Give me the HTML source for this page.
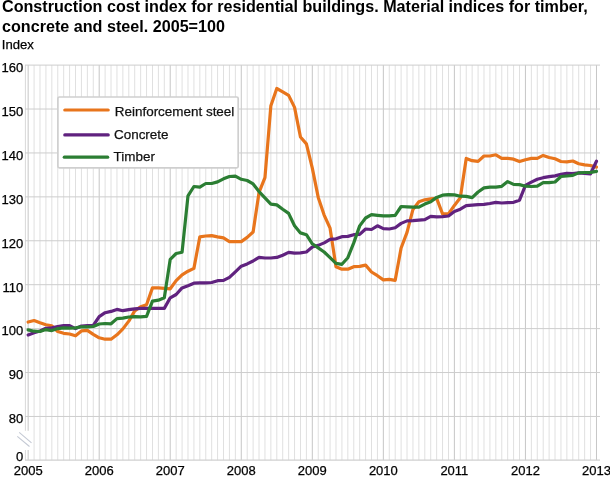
<!DOCTYPE html>
<html><head><meta charset="utf-8">
<style>
html,body{margin:0;padding:0;background:#fff;}
body{width:610px;height:488px;overflow:hidden;position:relative;font-family:"Liberation Sans",sans-serif;}
svg{position:absolute;left:0;top:0;will-change:transform;}
</style></head><body>
<svg width="610" height="488" viewBox="0 0 610 488">
<g><line x1="28.15" y1="65.10" x2="28.15" y2="430.8" stroke="#c6c6c6" stroke-width="1"/><line x1="28.15" y1="450" x2="28.15" y2="460.20" stroke="#c6c6c6" stroke-width="1"/><line x1="34.07" y1="65.10" x2="34.07" y2="460.20" stroke="#e0e0e0" stroke-width="1"/><line x1="39.99" y1="65.10" x2="39.99" y2="460.20" stroke="#e0e0e0" stroke-width="1"/><line x1="45.91" y1="65.10" x2="45.91" y2="460.20" stroke="#e0e0e0" stroke-width="1"/><line x1="51.83" y1="65.10" x2="51.83" y2="460.20" stroke="#e0e0e0" stroke-width="1"/><line x1="57.75" y1="65.10" x2="57.75" y2="460.20" stroke="#e0e0e0" stroke-width="1"/><line x1="63.67" y1="65.10" x2="63.67" y2="460.20" stroke="#e0e0e0" stroke-width="1"/><line x1="69.59" y1="65.10" x2="69.59" y2="460.20" stroke="#e0e0e0" stroke-width="1"/><line x1="75.51" y1="65.10" x2="75.51" y2="460.20" stroke="#e0e0e0" stroke-width="1"/><line x1="81.43" y1="65.10" x2="81.43" y2="460.20" stroke="#e0e0e0" stroke-width="1"/><line x1="87.35" y1="65.10" x2="87.35" y2="460.20" stroke="#e0e0e0" stroke-width="1"/><line x1="93.27" y1="65.10" x2="93.27" y2="460.20" stroke="#e0e0e0" stroke-width="1"/><line x1="99.19" y1="65.10" x2="99.19" y2="460.20" stroke="#c6c6c6" stroke-width="1"/><line x1="105.11" y1="65.10" x2="105.11" y2="460.20" stroke="#e0e0e0" stroke-width="1"/><line x1="111.03" y1="65.10" x2="111.03" y2="460.20" stroke="#e0e0e0" stroke-width="1"/><line x1="116.95" y1="65.10" x2="116.95" y2="460.20" stroke="#e0e0e0" stroke-width="1"/><line x1="122.87" y1="65.10" x2="122.87" y2="460.20" stroke="#e0e0e0" stroke-width="1"/><line x1="128.79" y1="65.10" x2="128.79" y2="460.20" stroke="#e0e0e0" stroke-width="1"/><line x1="134.71" y1="65.10" x2="134.71" y2="460.20" stroke="#e0e0e0" stroke-width="1"/><line x1="140.63" y1="65.10" x2="140.63" y2="460.20" stroke="#e0e0e0" stroke-width="1"/><line x1="146.55" y1="65.10" x2="146.55" y2="460.20" stroke="#e0e0e0" stroke-width="1"/><line x1="152.47" y1="65.10" x2="152.47" y2="460.20" stroke="#e0e0e0" stroke-width="1"/><line x1="158.39" y1="65.10" x2="158.39" y2="460.20" stroke="#e0e0e0" stroke-width="1"/><line x1="164.31" y1="65.10" x2="164.31" y2="460.20" stroke="#e0e0e0" stroke-width="1"/><line x1="170.23" y1="65.10" x2="170.23" y2="460.20" stroke="#c6c6c6" stroke-width="1"/><line x1="176.15" y1="65.10" x2="176.15" y2="460.20" stroke="#e0e0e0" stroke-width="1"/><line x1="182.07" y1="65.10" x2="182.07" y2="460.20" stroke="#e0e0e0" stroke-width="1"/><line x1="187.99" y1="65.10" x2="187.99" y2="460.20" stroke="#e0e0e0" stroke-width="1"/><line x1="193.91" y1="65.10" x2="193.91" y2="460.20" stroke="#e0e0e0" stroke-width="1"/><line x1="199.83" y1="65.10" x2="199.83" y2="460.20" stroke="#e0e0e0" stroke-width="1"/><line x1="205.75" y1="65.10" x2="205.75" y2="460.20" stroke="#e0e0e0" stroke-width="1"/><line x1="211.67" y1="65.10" x2="211.67" y2="460.20" stroke="#e0e0e0" stroke-width="1"/><line x1="217.59" y1="65.10" x2="217.59" y2="460.20" stroke="#e0e0e0" stroke-width="1"/><line x1="223.51" y1="65.10" x2="223.51" y2="460.20" stroke="#e0e0e0" stroke-width="1"/><line x1="229.43" y1="65.10" x2="229.43" y2="460.20" stroke="#e0e0e0" stroke-width="1"/><line x1="235.35" y1="65.10" x2="235.35" y2="460.20" stroke="#e0e0e0" stroke-width="1"/><line x1="241.27" y1="65.10" x2="241.27" y2="460.20" stroke="#c6c6c6" stroke-width="1"/><line x1="247.19" y1="65.10" x2="247.19" y2="460.20" stroke="#e0e0e0" stroke-width="1"/><line x1="253.11" y1="65.10" x2="253.11" y2="460.20" stroke="#e0e0e0" stroke-width="1"/><line x1="259.03" y1="65.10" x2="259.03" y2="460.20" stroke="#e0e0e0" stroke-width="1"/><line x1="264.95" y1="65.10" x2="264.95" y2="460.20" stroke="#e0e0e0" stroke-width="1"/><line x1="270.87" y1="65.10" x2="270.87" y2="460.20" stroke="#e0e0e0" stroke-width="1"/><line x1="276.79" y1="65.10" x2="276.79" y2="460.20" stroke="#e0e0e0" stroke-width="1"/><line x1="282.71" y1="65.10" x2="282.71" y2="460.20" stroke="#e0e0e0" stroke-width="1"/><line x1="288.63" y1="65.10" x2="288.63" y2="460.20" stroke="#e0e0e0" stroke-width="1"/><line x1="294.55" y1="65.10" x2="294.55" y2="460.20" stroke="#e0e0e0" stroke-width="1"/><line x1="300.47" y1="65.10" x2="300.47" y2="460.20" stroke="#e0e0e0" stroke-width="1"/><line x1="306.39" y1="65.10" x2="306.39" y2="460.20" stroke="#e0e0e0" stroke-width="1"/><line x1="312.31" y1="65.10" x2="312.31" y2="460.20" stroke="#c6c6c6" stroke-width="1"/><line x1="318.23" y1="65.10" x2="318.23" y2="460.20" stroke="#e0e0e0" stroke-width="1"/><line x1="324.15" y1="65.10" x2="324.15" y2="460.20" stroke="#e0e0e0" stroke-width="1"/><line x1="330.07" y1="65.10" x2="330.07" y2="460.20" stroke="#e0e0e0" stroke-width="1"/><line x1="335.99" y1="65.10" x2="335.99" y2="460.20" stroke="#e0e0e0" stroke-width="1"/><line x1="341.91" y1="65.10" x2="341.91" y2="460.20" stroke="#e0e0e0" stroke-width="1"/><line x1="347.83" y1="65.10" x2="347.83" y2="460.20" stroke="#e0e0e0" stroke-width="1"/><line x1="353.75" y1="65.10" x2="353.75" y2="460.20" stroke="#e0e0e0" stroke-width="1"/><line x1="359.67" y1="65.10" x2="359.67" y2="460.20" stroke="#e0e0e0" stroke-width="1"/><line x1="365.59" y1="65.10" x2="365.59" y2="460.20" stroke="#e0e0e0" stroke-width="1"/><line x1="371.51" y1="65.10" x2="371.51" y2="460.20" stroke="#e0e0e0" stroke-width="1"/><line x1="377.43" y1="65.10" x2="377.43" y2="460.20" stroke="#e0e0e0" stroke-width="1"/><line x1="383.35" y1="65.10" x2="383.35" y2="460.20" stroke="#c6c6c6" stroke-width="1"/><line x1="389.27" y1="65.10" x2="389.27" y2="460.20" stroke="#e0e0e0" stroke-width="1"/><line x1="395.19" y1="65.10" x2="395.19" y2="460.20" stroke="#e0e0e0" stroke-width="1"/><line x1="401.11" y1="65.10" x2="401.11" y2="460.20" stroke="#e0e0e0" stroke-width="1"/><line x1="407.03" y1="65.10" x2="407.03" y2="460.20" stroke="#e0e0e0" stroke-width="1"/><line x1="412.95" y1="65.10" x2="412.95" y2="460.20" stroke="#e0e0e0" stroke-width="1"/><line x1="418.87" y1="65.10" x2="418.87" y2="460.20" stroke="#e0e0e0" stroke-width="1"/><line x1="424.79" y1="65.10" x2="424.79" y2="460.20" stroke="#e0e0e0" stroke-width="1"/><line x1="430.71" y1="65.10" x2="430.71" y2="460.20" stroke="#e0e0e0" stroke-width="1"/><line x1="436.63" y1="65.10" x2="436.63" y2="460.20" stroke="#e0e0e0" stroke-width="1"/><line x1="442.55" y1="65.10" x2="442.55" y2="460.20" stroke="#e0e0e0" stroke-width="1"/><line x1="448.47" y1="65.10" x2="448.47" y2="460.20" stroke="#e0e0e0" stroke-width="1"/><line x1="454.39" y1="65.10" x2="454.39" y2="460.20" stroke="#c6c6c6" stroke-width="1"/><line x1="460.31" y1="65.10" x2="460.31" y2="460.20" stroke="#e0e0e0" stroke-width="1"/><line x1="466.23" y1="65.10" x2="466.23" y2="460.20" stroke="#e0e0e0" stroke-width="1"/><line x1="472.15" y1="65.10" x2="472.15" y2="460.20" stroke="#e0e0e0" stroke-width="1"/><line x1="478.07" y1="65.10" x2="478.07" y2="460.20" stroke="#e0e0e0" stroke-width="1"/><line x1="483.99" y1="65.10" x2="483.99" y2="460.20" stroke="#e0e0e0" stroke-width="1"/><line x1="489.91" y1="65.10" x2="489.91" y2="460.20" stroke="#e0e0e0" stroke-width="1"/><line x1="495.83" y1="65.10" x2="495.83" y2="460.20" stroke="#e0e0e0" stroke-width="1"/><line x1="501.75" y1="65.10" x2="501.75" y2="460.20" stroke="#e0e0e0" stroke-width="1"/><line x1="507.67" y1="65.10" x2="507.67" y2="460.20" stroke="#e0e0e0" stroke-width="1"/><line x1="513.59" y1="65.10" x2="513.59" y2="460.20" stroke="#e0e0e0" stroke-width="1"/><line x1="519.51" y1="65.10" x2="519.51" y2="460.20" stroke="#e0e0e0" stroke-width="1"/><line x1="525.43" y1="65.10" x2="525.43" y2="460.20" stroke="#c6c6c6" stroke-width="1"/><line x1="531.35" y1="65.10" x2="531.35" y2="460.20" stroke="#e0e0e0" stroke-width="1"/><line x1="537.27" y1="65.10" x2="537.27" y2="460.20" stroke="#e0e0e0" stroke-width="1"/><line x1="543.19" y1="65.10" x2="543.19" y2="460.20" stroke="#e0e0e0" stroke-width="1"/><line x1="549.11" y1="65.10" x2="549.11" y2="460.20" stroke="#e0e0e0" stroke-width="1"/><line x1="555.03" y1="65.10" x2="555.03" y2="460.20" stroke="#e0e0e0" stroke-width="1"/><line x1="560.95" y1="65.10" x2="560.95" y2="460.20" stroke="#e0e0e0" stroke-width="1"/><line x1="566.87" y1="65.10" x2="566.87" y2="460.20" stroke="#e0e0e0" stroke-width="1"/><line x1="572.79" y1="65.10" x2="572.79" y2="460.20" stroke="#e0e0e0" stroke-width="1"/><line x1="578.71" y1="65.10" x2="578.71" y2="460.20" stroke="#e0e0e0" stroke-width="1"/><line x1="584.63" y1="65.10" x2="584.63" y2="460.20" stroke="#e0e0e0" stroke-width="1"/><line x1="590.55" y1="65.10" x2="590.55" y2="460.20" stroke="#e0e0e0" stroke-width="1"/><line x1="596.47" y1="65.10" x2="596.47" y2="460.20" stroke="#c6c6c6" stroke-width="1"/><line x1="25.4" y1="65.10" x2="25.4" y2="430.8" stroke="#d8d8d8" stroke-width="1"/><line x1="25.4" y1="450" x2="25.4" y2="460.20" stroke="#d8d8d8" stroke-width="1"/><line x1="25" y1="65.10" x2="600" y2="65.10" stroke="#cdcdcd" stroke-width="1"/><line x1="25" y1="109.02" x2="600" y2="109.02" stroke="#cdcdcd" stroke-width="1"/><line x1="25" y1="152.94" x2="600" y2="152.94" stroke="#cdcdcd" stroke-width="1"/><line x1="25" y1="196.86" x2="600" y2="196.86" stroke="#cdcdcd" stroke-width="1"/><line x1="25" y1="240.78" x2="600" y2="240.78" stroke="#cdcdcd" stroke-width="1"/><line x1="25" y1="284.70" x2="600" y2="284.70" stroke="#cdcdcd" stroke-width="1"/><line x1="25" y1="328.62" x2="600" y2="328.62" stroke="#cdcdcd" stroke-width="1"/><line x1="25" y1="372.54" x2="600" y2="372.54" stroke="#cdcdcd" stroke-width="1"/><line x1="25" y1="416.46" x2="600" y2="416.46" stroke="#cdcdcd" stroke-width="1"/><line x1="25" y1="460.20" x2="600" y2="460.20" stroke="#d0d0d0" stroke-width="1.2"/></g>
<g stroke="#c4c9d4" stroke-width="1.1">
<line x1="19.2" y1="432.4" x2="31.5" y2="442.8"/>
<line x1="17.3" y1="436.4" x2="29.5" y2="446.5"/>
</g>
<g font-family="Liberation Sans, sans-serif" font-size="13" fill="#000" stroke="#000" stroke-width="0.25"><text x="23.3" y="71.90" text-anchor="end">160</text><text x="23.3" y="115.82" text-anchor="end">150</text><text x="23.3" y="159.74" text-anchor="end">140</text><text x="23.3" y="203.66" text-anchor="end">130</text><text x="23.3" y="247.58" text-anchor="end">120</text><text x="23.3" y="291.50" text-anchor="end">110</text><text x="23.3" y="335.42" text-anchor="end">100</text><text x="23.3" y="379.34" text-anchor="end">90</text><text x="23.3" y="423.26" text-anchor="end">80</text><text x="23.3" y="461" text-anchor="end">0</text><text x="28.15" y="474.8" text-anchor="middle">2005</text><text x="99.19" y="474.8" text-anchor="middle">2006</text><text x="170.23" y="474.8" text-anchor="middle">2007</text><text x="241.27" y="474.8" text-anchor="middle">2008</text><text x="312.31" y="474.8" text-anchor="middle">2009</text><text x="383.35" y="474.8" text-anchor="middle">2010</text><text x="454.39" y="474.8" text-anchor="middle">2011</text><text x="525.43" y="474.8" text-anchor="middle">2012</text><text x="596.47" y="474.8" text-anchor="middle">2013</text></g>
<g font-family="Liberation Sans, sans-serif" font-weight="bold" font-size="16.15" fill="#000">
<text x="2" y="11.9">Construction cost index for residential buildings. Material indices for timber,</text>
<text x="2" y="31.7">concrete and steel. 2005=100</text>
</g>
<text x="1.8" y="48.9" font-family="Liberation Sans, sans-serif" font-size="13.1" fill="#000" stroke="#000" stroke-width="0.25">Index</text>
<rect x="57.9" y="97.0" width="180.3" height="70.8" rx="1.5" fill="#fff" stroke="#cfcfcf" stroke-width="1.7"/>
<g stroke-width="3.2" stroke-linecap="round" fill="none">
<line x1="64.8" y1="110.0" x2="108.2" y2="110.0" stroke="#e8751c"/>
<line x1="64.8" y1="134.9" x2="108.2" y2="134.9" stroke="#60227f"/>
<line x1="64.3" y1="157.2" x2="107.7" y2="157.2" stroke="#2b7e33"/>
</g>
<g font-family="Liberation Sans, sans-serif" font-size="13.45" fill="#111" stroke="#111" stroke-width="0.25">
<text x="114.8" y="116">Reinforcement steel</text>
<text x="114" y="139.3">Concrete</text>
<text x="113.6" y="160.9">Timber</text>
</g>
<g fill="none" stroke-width="3.2" stroke-linejoin="round" stroke-linecap="round">
<path d="M28.15 322.00 L34.07 320.50 L39.99 322.70 L45.91 324.70 L51.83 325.80 L57.75 331.50 L63.67 333.30 L69.59 334.00 L75.51 335.80 L81.43 330.90 L87.35 330.40 L93.27 334.30 L99.19 337.80 L105.11 339.20 L111.03 339.20 L116.95 334.80 L122.87 328.90 L128.79 321.10 L134.71 310.90 L140.63 306.80 L146.55 304.80 L152.47 287.90 L158.39 287.90 L164.31 288.40 L170.23 288.80 L176.15 280.60 L182.07 274.80 L187.99 271.20 L193.91 268.40 L199.83 236.80 L205.75 236.00 L211.67 235.60 L217.59 236.90 L223.51 237.90 L229.43 241.60 L235.35 241.60 L241.27 241.60 L247.19 237.40 L253.11 232.00 L259.03 192.40 L264.95 177.60 L270.87 105.70 L276.79 88.50 L282.71 91.80 L288.63 95.40 L294.55 107.40 L300.47 137.00 L306.39 143.90 L312.31 168.10 L318.23 197.40 L324.15 215.10 L330.07 228.20 L335.99 266.70 L341.91 269.20 L347.83 269.20 L353.75 266.70 L359.67 266.40 L365.59 265.10 L371.51 272.00 L377.43 275.70 L383.35 279.90 L389.27 279.40 L395.19 280.30 L401.11 248.00 L407.03 232.40 L412.95 209.40 L418.87 201.70 L424.79 199.80 L430.71 198.90 L436.63 198.40 L442.55 213.90 L448.47 213.90 L454.39 205.40 L460.31 197.80 L466.23 158.40 L472.15 160.70 L478.07 161.40 L483.99 156.00 L489.91 156.00 L495.83 154.80 L501.75 158.40 L507.67 158.40 L513.59 159.20 L519.51 161.60 L525.43 159.70 L531.35 158.40 L537.27 158.40 L543.19 155.40 L549.11 157.50 L555.03 158.80 L560.95 161.50 L566.87 161.80 L572.79 161.00 L578.71 163.70 L584.63 164.90 L590.55 165.50 L596.47 167.10" stroke="#e8751c"/>
<path d="M28.15 335.00 L34.07 332.80 L39.99 331.00 L45.91 328.30 L51.83 327.90 L57.75 326.60 L63.67 325.60 L69.59 325.60 L75.51 328.60 L81.43 326.00 L87.35 325.70 L93.27 325.50 L99.19 316.60 L105.11 312.70 L111.03 311.40 L116.95 309.40 L122.87 310.70 L128.79 309.70 L134.71 308.80 L140.63 308.40 L146.55 308.40 L152.47 308.40 L158.39 308.40 L164.31 308.40 L170.23 297.80 L176.15 294.50 L182.07 287.90 L187.99 285.70 L193.91 283.20 L199.83 282.80 L205.75 282.80 L211.67 282.50 L217.59 280.70 L223.51 280.40 L229.43 277.30 L235.35 271.80 L241.27 266.20 L247.19 263.90 L253.11 261.00 L259.03 257.40 L264.95 258.00 L270.87 258.00 L276.79 257.40 L282.71 255.20 L288.63 252.40 L294.55 253.10 L300.47 252.80 L306.39 252.00 L312.31 247.00 L318.23 245.40 L324.15 242.90 L330.07 239.30 L335.99 238.80 L341.91 236.70 L347.83 236.40 L353.75 234.70 L359.67 234.40 L365.59 229.00 L371.51 229.50 L377.43 225.80 L383.35 228.60 L389.27 229.00 L395.19 227.70 L401.11 223.40 L407.03 220.90 L412.95 220.70 L418.87 220.10 L424.79 219.60 L430.71 216.40 L436.63 216.90 L442.55 216.60 L448.47 216.00 L454.39 211.40 L460.31 209.20 L466.23 205.70 L472.15 205.20 L478.07 204.70 L483.99 204.30 L489.91 203.50 L495.83 202.40 L501.75 203.00 L507.67 202.60 L513.59 202.30 L519.51 200.20 L525.43 185.40 L531.35 182.10 L537.27 179.30 L543.19 177.70 L549.11 176.70 L555.03 175.90 L560.95 174.40 L566.87 173.30 L572.79 173.50 L578.71 172.90 L584.63 173.30 L590.55 173.80 L596.47 161.20" stroke="#60227f"/>
<path d="M28.15 329.90 L34.07 331.20 L39.99 331.50 L45.91 329.60 L51.83 330.60 L57.75 328.60 L63.67 327.90 L69.59 328.10 L75.51 327.90 L81.43 326.80 L87.35 326.80 L93.27 326.50 L99.19 324.00 L105.11 323.50 L111.03 323.80 L116.95 318.60 L122.87 318.10 L128.79 317.00 L134.71 316.60 L140.63 316.80 L146.55 316.40 L152.47 301.10 L158.39 300.20 L164.31 297.80 L170.23 259.30 L176.15 253.50 L182.07 252.20 L187.99 195.80 L193.91 186.50 L199.83 187.10 L205.75 183.50 L211.67 183.50 L217.59 181.90 L223.51 178.80 L229.43 176.50 L235.35 176.10 L241.27 179.30 L247.19 180.50 L253.11 183.90 L259.03 191.60 L264.95 197.90 L270.87 204.20 L276.79 204.90 L282.71 209.30 L288.63 213.40 L294.55 225.70 L300.47 232.90 L306.39 234.70 L312.31 243.80 L318.23 247.90 L324.15 252.00 L330.07 257.70 L335.99 263.40 L341.91 264.30 L347.83 257.70 L353.75 242.90 L359.67 225.90 L365.59 218.00 L371.51 214.70 L377.43 215.30 L383.35 215.80 L389.27 215.90 L395.19 215.40 L401.11 206.50 L407.03 206.90 L412.95 207.20 L418.87 207.20 L424.79 204.10 L430.71 201.70 L436.63 197.40 L442.55 195.20 L448.47 194.70 L454.39 194.90 L460.31 196.20 L466.23 196.40 L472.15 197.60 L478.07 192.00 L483.99 187.90 L489.91 187.10 L495.83 187.10 L501.75 186.30 L507.67 181.60 L513.59 184.40 L519.51 184.60 L525.43 186.20 L531.35 186.50 L537.27 186.20 L543.19 182.60 L549.11 182.60 L555.03 182.00 L560.95 176.50 L566.87 176.00 L572.79 175.40 L578.71 172.90 L584.63 172.50 L590.55 172.30 L596.47 171.30" stroke="#2b7e33"/>
</g>
</svg>
</body></html>
